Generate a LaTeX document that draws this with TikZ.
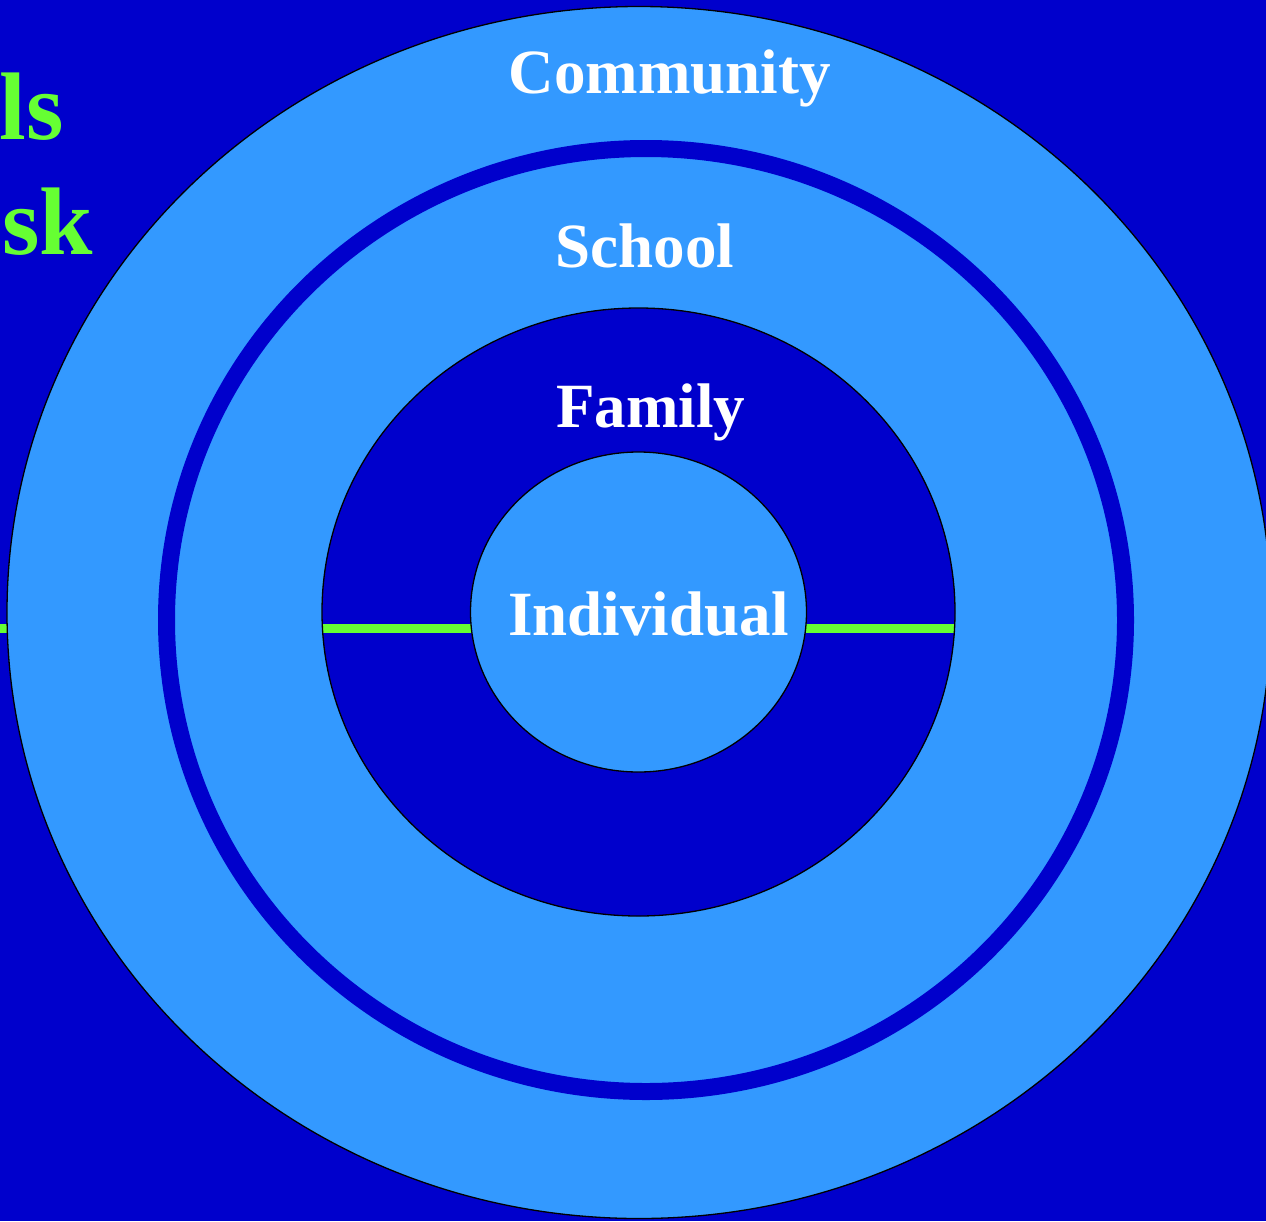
\documentclass[tikz,border=0pt]{standalone}
\usepackage{fontspec}
\setmainfont{Liberation Serif}
\definecolor{bgblue}{RGB}{0,0,204}
\definecolor{lightblue}{RGB}{51,153,255}
\definecolor{limegreen}{RGB}{102,255,51}
\begin{document}
\begin{tikzpicture}[x=1pt,y=-1pt,
  outline/.style={draw=black,line width=1.3pt},
  greenline/.style={draw=limegreen,line width=8.5pt},
  label/.style={text=white,font=\bfseries\fontsize{63}{63}\selectfont,inner sep=0pt,anchor=base},
  sidetext/.style={text=limegreen,font=\bfseries\fontsize{96}{96}\selectfont,inner sep=0pt,anchor=base east}]
\useasboundingbox (0,0) rectangle (1266,1221);
\clip (0,0) rectangle (1266,1221);
\fill[bgblue] (0,0) rectangle (1266,1221);
% green line left of outer circle
\coordinate (gl0) at (0,628.5);
\coordinate (gl1) at (20,628.5);
\draw[greenline] (gl0) -- (gl1);
% outer (community)
\coordinate (oc) at (639,612.5);
\fill[lightblue] (oc) ellipse [x radius=632, y radius=606];
\draw[outline] (oc) ellipse [x radius=632, y radius=606];
% dark ring (school boundary)
\coordinate (rc) at (646,620);
\draw[bgblue,line width=17pt] (rc) ellipse [x radius=479.5, y radius=471.5];
% family
\coordinate (fc) at (638.5,612);
\fill[bgblue] (fc) ellipse [x radius=316.5, y radius=304];
\coordinate (gf0) at (322,628.5);
\coordinate (gf1) at (955,628.5);
\draw[greenline] (gf0) -- (gf1);
\draw[outline] (fc) ellipse [x radius=316.5, y radius=304];
% individual
\coordinate (ic) at (638.5,612);
\fill[lightblue] (ic) ellipse [x radius=168, y radius=160];
\draw[outline] (ic) ellipse [x radius=168, y radius=160];
% labels
\node[label] (community) at (670,93) {Community};
\node[label] (school) at (645,267) {School};
\node[label] (family) at (650.5,427) {Family};
\node[label] (individual) at (648.5,635) {Individual};
\node[sidetext] (ls) at (64,139) {ls};
\node[sidetext] (sk) at (93,254) {sk};
\end{tikzpicture}
\end{document}
